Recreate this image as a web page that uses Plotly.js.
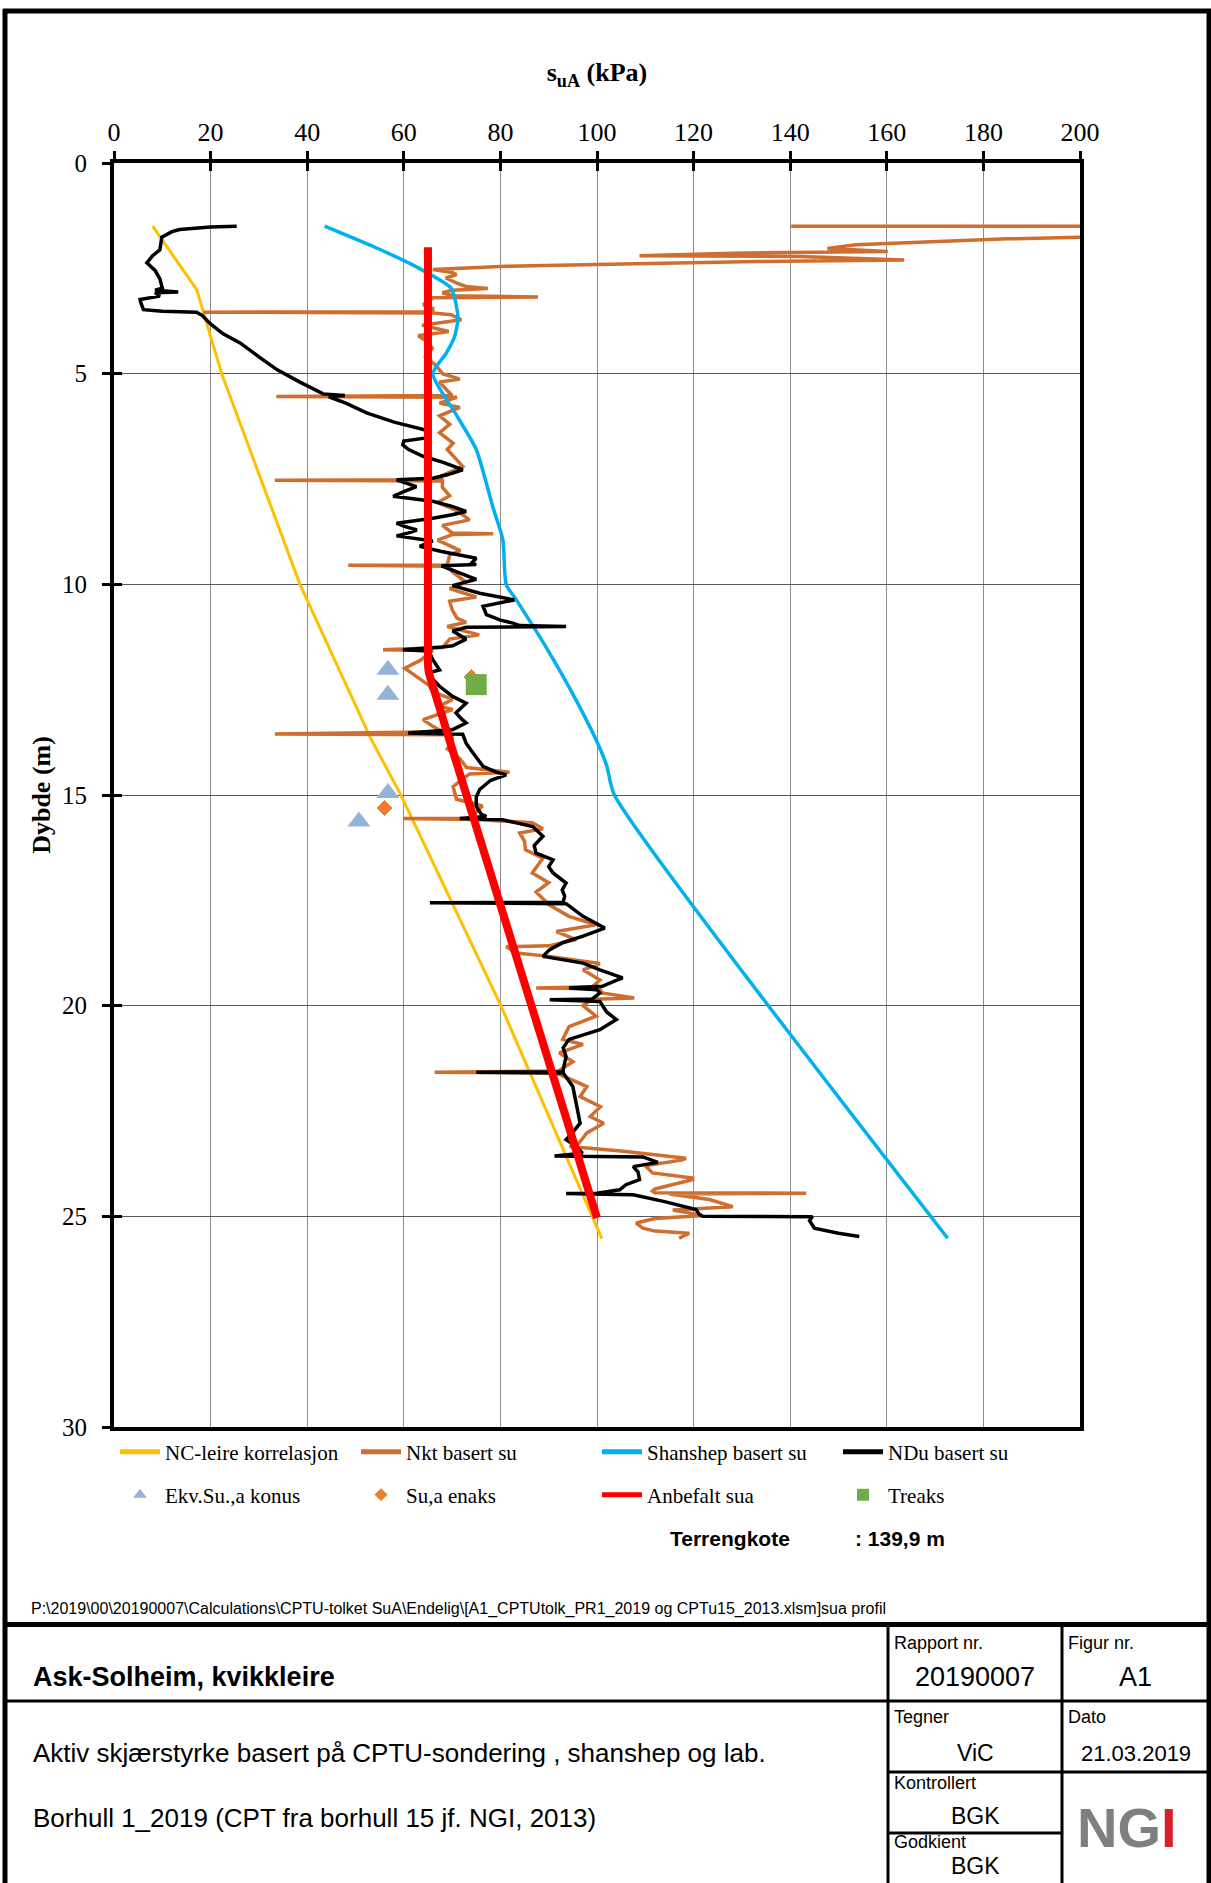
<!DOCTYPE html>
<html><head><meta charset="utf-8">
<script src="https://cdn.plot.ly/plotly-3.0.1.min.js"></script>
<style>html,body{margin:0;padding:0;background:#fff;}#chart{width:1211px;height:1883px;}</style>
</head><body><div id="chart"></div>
<script>
// ---- data (kPa vs depth m) ----
const depthNC = [1.5, 3.0, 5.0, 6.57, 10.0, 13.69, 15.0, 20.0, 25.53];
const suNC    = [8.0, 17.1, 22.3, 27.4, 38.5, 53.3, 59.4, 80.1, 101.0];

const depthNkt = [1.50,1.50,1.73,1.80,1.94,2.03,2.10,2.14,2.20,2.22,2.30,2.34,2.41,2.45,2.53,2.60,2.65,2.73,2.85,2.93,2.98,3.02,3.08,3.15,3.18,3.20,3.30,3.36,3.45,3.53,3.54,3.56,3.60,3.72,3.85,4.00,4.10,4.25,4.40,4.60,4.80,5.00,5.13,5.20,5.40,5.52,5.54,5.56,5.70,5.80,6.00,6.20,6.40,6.65,6.80,7.00,7.20,7.45,7.52,7.53,7.55,7.70,7.90,8.06,8.25,8.47,8.60,8.78,8.80,8.82,8.95,9.20,9.30,9.54,9.55,9.57,9.70,9.95,10.10,10.30,10.40,10.60,10.80,10.90,11.00,11.20,11.30,11.50,11.55,11.57,11.80,11.99,12.20,12.40,12.55,12.73,12.89,12.97,13.21,13.37,13.50,13.55,13.57,13.75,13.90,14.15,14.35,14.46,14.50,14.80,15.10,15.26,15.40,15.55,15.56,15.58,15.66,15.80,15.90,16.10,16.30,16.50,16.85,17.08,17.30,17.60,17.88,18.08,18.24,18.43,18.58,18.60,18.75,18.83,19.00,19.15,19.39,19.55,19.58,19.60,19.70,19.82,19.85,20.00,20.25,20.50,20.80,20.92,21.12,21.33,21.55,21.58,21.60,21.92,22.16,22.40,22.63,22.79,23.02,23.30,23.34,23.45,23.62,23.66,23.80,23.97,24.09,24.13,24.35,24.40,24.44,24.45,24.47,24.60,24.77,24.85,24.98,25.05,25.16,25.28,25.35,25.40,25.52];
const suNkt = [140.2,215,215,185,153.6,147.7,160.2,128,108.8,142,163.6,133,99.8,81.2,66,70,70.9,68.7,71,72.9,77.4,70,68,70,87.8,66,65,64,66,66,18.5,66,69.8,71.9,63.8,69.3,63,65,65.9,64.5,66.6,68,71.6,67.4,69,70,33.6,71,67.4,71.6,67.4,69.5,67.4,70.2,69,70.5,72.2,67.4,68,33.3,68,68,69.5,67,71,73.6,68,70,78.5,70,67,71.7,69.5,69,48.5,69,70,72.9,69.5,75,69.5,70,71,72.9,69,75.6,69.5,68,55.7,66,63.5,60.2,62.7,65.2,66,70.1,67.4,70.1,64,66,68,33.3,70,70,69,71.7,73,81.9,73.6,70.2,70.9,76.3,75,74,59.8,74.8,86.6,88.8,84,85,85.2,88.8,86.6,90,87.4,90,94.2,99.8,91.6,95.7,90,81.2,83.3,90.2,100.6,97.1,100.6,99,87.4,100.6,101,107.7,99,97.1,99.8,94.2,92.9,97.1,92.2,95,92,66.4,91.6,97.9,96.5,100.7,98.6,101.4,97.9,96,94.3,105,118.4,117.7,110,111.5,119.8,119.8,112,111.5,112,143.3,115,123.3,128.1,115.7,121.9,112,108.1,109.5,112,119.1,117];

const depthSH = [1.5, 2.0, 2.4, 2.97, 3.4, 3.72, 4.12, 4.51, 5.0, 6.0, 6.8, 8.15, 8.94, 10.0, 10.37, 11.5, 12.5, 13.69, 14.3, 15.0, 25.52];
const suSH    = [43.6, 54.0, 61.5, 69.8, 70.9, 71.2, 70.5, 68.8, 66.0, 71.0, 75.0, 78.4, 80.5, 81.2, 83.3, 89.5, 94.5, 99.8, 102.0, 103.6, 172.6];

const depthNDu = [1.50,1.52,1.58,1.63,1.76,2.06,2.20,2.37,2.55,2.75,2.97,3.02,3.06,3.08,3.16,3.24,3.30,3.48,3.52,3.54,3.62,3.80,4.05,4.27,4.60,4.91,5.20,5.48,5.52,5.55,5.70,5.93,6.15,6.33,6.45,6.53,6.60,6.69,6.80,6.96,7.10,7.28,7.40,7.48,7.52,7.58,7.68,7.80,7.91,8.03,8.15,8.27,8.35,8.43,8.55,8.62,8.71,8.78,8.85,8.97,9.10,9.22,9.30,9.38,9.50,9.53,9.56,9.72,9.88,10.03,10.21,10.37,10.45,10.52,10.72,10.85,10.92,10.98,11.00,11.02,11.11,11.30,11.46,11.49,11.55,11.58,11.79,12.03,12.10,12.25,12.42,12.55,12.66,12.82,13.05,13.20,13.29,13.45,13.53,13.56,13.77,13.95,14.10,14.32,14.45,14.52,14.65,14.87,15.05,15.27,15.45,15.51,15.56,15.59,15.75,15.98,16.20,16.38,16.54,16.70,16.85,17.09,17.25,17.40,17.55,17.56,17.58,17.88,18.16,18.35,18.50,18.67,18.83,18.99,19.15,19.34,19.45,19.54,19.58,19.62,19.70,19.84,19.86,19.90,20.15,20.33,20.57,20.80,21.00,21.21,21.52,21.57,21.58,21.60,21.92,22.20,22.50,22.79,23.00,23.18,23.34,23.50,23.57,23.59,23.72,23.82,23.95,24.13,24.25,24.37,24.45,24.46,24.48,24.49,24.65,24.84,24.96,25.00,25.01,25.10,25.28,25.40,25.48];
const suNDu = [25.4,20.0,13.6,12.0,9.9,9.5,8.0,6.8,8.5,9.5,10.0,8.5,13.3,8.5,9.5,5.4,5.5,6.1,10.0,17.1,18.3,19.8,22.5,26.1,30.0,33.8,38.5,43.3,47.8,44.5,48.0,52.3,58.0,64.3,65.0,64.3,60.0,59.8,61.0,64.0,68.0,72.2,69.0,66.0,58.5,60.0,62.6,60.0,57.8,66.0,70.0,72.9,70.0,66.0,58.5,60.0,62.7,61.0,58.5,66.0,63.3,67.8,71.0,75.0,74.0,75.0,67.8,71.2,75.0,70.1,75.7,82.9,79.0,76.4,77.1,80.0,82.6,84.0,93.6,72.9,70.1,72.9,70.1,68.0,59.8,65.2,66.0,67.4,65.2,66.0,67.4,69.0,70.1,72.9,70.8,72.0,72.9,70.1,60.9,72.2,72.9,74.0,75.0,76.4,79.0,81.2,78.0,75.7,75.0,75.0,76.0,77.1,71.6,80.5,86.7,88.8,87.0,87.4,90.9,90.0,90.9,93.6,92.8,93.3,93.0,65.4,93.6,97.1,101.6,97.1,93.0,90.2,88.8,97.1,100.6,105.3,103.0,101.1,94.2,100.0,100.6,99.0,90.2,100.6,102.0,104.0,100.6,94.2,93.0,93.6,93.0,93.0,75.0,93.0,95.0,95.5,96.0,96.5,95.0,93.6,95.7,97.0,91.2,109.5,112.6,107.5,108.5,108.8,106.0,104.7,100.0,93.6,104.0,107.5,114.0,120.5,121.2,121.9,144.6,144.0,145.0,150.0,154.3];

const depthKonus = [12.03, 12.62, 14.95, 15.63];
const suKonus    = [56.7, 56.7, 56.7, 50.7];
const depthEnaks = [12.2, 15.31];
const suEnaks    = [74.0, 56.0];
const depthRec = [2.0, 11.9, 12.1, 12.3, 25.04];
const suRec    = [65.0, 65.0, 65.2, 65.7, 100.0];
const depthTreaks = [12.38];
const suTreaks    = [75.0];

const xTicks = [0,20,40,60,80,100,120,140,160,180,200];
const yTicks = [0,5,10,15,20,25,30];

// ---- page geometry helpers (page px -> paper) ----
const L=114, T=163, W=966, H=1264;
const fx = X => (X-L)/W, fy = Y => (T+H-Y)/H;
const SERIF='Liberation Serif', SANS='Liberation Sans';

const traces = [
  {name:'NC-leire korrelasjon', x:suNC, y:depthNC, mode:'lines', line:{color:'#FFC000', width:3}, legend:'legend'},
  {name:'Nkt basert su', x:suNkt, y:depthNkt, mode:'lines', line:{color:'#D06E2F', width:3.5}, legend:'legend'},
  {name:'Shanshep basert su', x:suSH, y:depthSH, mode:'lines', line:{color:'#00B0F0', width:3.5, shape:'spline', smoothing:0.6}, legend:'legend'},
  {name:'NDu basert su', x:suNDu, y:depthNDu, mode:'lines', line:{color:'#000000', width:3.5}, legend:'legend'},
  {name:'Ekv.Su.,a konus', x:suKonus, y:depthKonus, mode:'markers', marker:{symbol:'triangle-up', size:20, color:'#95B3D7'}, legend:'legend2'},
  {name:'Su,a enaks', x:suEnaks, y:depthEnaks, mode:'markers', marker:{symbol:'diamond', size:13, color:'#ED7D31', line:{color:'#fff', width:1}}, legend:'legend2'},
  {name:'Anbefalt sua', x:suRec, y:depthRec, mode:'lines', line:{color:'#FF0000', width:8, shape:'spline', smoothing:0.3}, legend:'legend2'},
  {name:'Treaks', x:suTreaks, y:depthTreaks, mode:'markers', marker:{symbol:'square', size:21, color:'#70AD47'}, legend:'legend2'},
  {x:[null], y:[null], xaxis:'x2', yaxis:'y2', showlegend:false, hoverinfo:'skip', mode:'lines'}
];

function line(x0,y0,x1,y1,w){return {type:'line', xref:'paper', yref:'paper', x0:fx(x0), y0:fy(y0), x1:fx(x1), y1:fy(y1), line:{color:'#000', width:w}};}
const shapes = [
  line(5,9,5,1895,5),
  line(1209,9,1209,1895,5),
  line(3,11,1211,11,5),
  line(5,1624.5,1209,1624.5,5),
  line(5,1701,1209,1701,3),
  line(888,1624,888,1895,3),
  line(1062,1624,1062,1895,3),
  line(888,1772,1209,1772,3),
  line(888,1833,1062,1833,3)
];
function ann(text,X,Y,size,o){o=o||{};return Object.assign({xref:'paper', yref:'paper', x:fx(X), y:fy(Y), xanchor:'left', yanchor:'middle', showarrow:false, text:text, font:{family:SANS, size:size, color:'#000'}}, o);}
const annotations = [
  ann('<b>Terrengkote</b>',668,1538,21),
  ann('<b>: 139,9 m</b>',853,1538,21),
  ann('P:\\2019\\00\\20190007\\Calculations\\CPTU-tolket SuA\\Endelig\\[A1_CPTUtolk_PR1_2019 og CPTu15_2013.xlsm]sua profil',29,1609,16),
  ann('<b>Ask-Solheim, kvikkleire</b>',31,1677,27),
  ann('Aktiv skjærstyrke basert på CPTU-sondering , shanshep og lab.',31,1753,26),
  ann('Borhull 1_2019 (CPT fra borhull 15 jf. NGI, 2013)',31,1818,26),
  ann('Rapport nr.',892,1643,18),
  ann('Figur nr.',1066,1643,18),
  ann('20190007',975,1677,27,{xanchor:'center'}),
  ann('A1',1135,1677,27,{xanchor:'center'}),
  ann('Tegner',892,1717,18),
  ann('Dato',1066,1717,18),
  ann('ViC',975,1753,23,{xanchor:'center'}),
  ann('21.03.2019',1136,1753,22,{xanchor:'center'}),
  ann('Kontrollert',892,1783,18),
  ann('BGK',975,1816,23,{xanchor:'center'}),
  ann('Godkient',892,1842,18),
  ann('BGK',975,1866,23,{xanchor:'center'}),
  ann('<b>NG<span style="color:#D2232A">I</span></b>',1127,1827,56,{xanchor:'center', font:{family:SANS, size:56, color:'#7F7F7F'}})
];

const axFont = {family:SERIF, size:26, color:'#000'};
const legFont = {family:SERIF, size:21, color:'#000'};
const layout = {
  width:1211, height:1883,
  margin:{l:L, r:1211-L-W, t:T, b:1883-T-H, pad:0},
  paper_bgcolor:'#fff', plot_bgcolor:'#fff',
  showlegend:true,
  xaxis:{range:[0,200], side:'top', tickvals:xTicks, ticks:'outside', ticklen:8, tickwidth:3, tickcolor:'#000',
    showline:true, linewidth:4, linecolor:'#000', mirror:true, showgrid:true, gridcolor:'#8C8C8C', gridwidth:1, zeroline:false,
    tickfont:axFont, title:{text:'<b>s<sub>uA</sub> (kPa)</b>', font:axFont, standoff:29}, fixedrange:true},
  yaxis:{range:[30,0], tickvals:yTicks, ticks:'outside', ticklen:8, tickwidth:3, tickcolor:'#000',
    showline:true, linewidth:4, linecolor:'#000', mirror:true, showgrid:true, gridcolor:'#595959', gridwidth:1, zeroline:false,
    tickfont:{family:SERIF, size:25, color:'#000'}, ticklabelstandoff:10, title:{text:'<b>Dybde (m)</b>', font:axFont, standoff:5}, fixedrange:true},
  xaxis2:{overlaying:'x', anchor:'y2', side:'top', range:[0,200], tickvals:xTicks, ticks:'inside', ticklen:8, tickwidth:3, tickcolor:'#000',
    showticklabels:false, showgrid:false, showline:false, zeroline:false},
  yaxis2:{overlaying:'y', anchor:'x2', side:'left', range:[30,0], tickvals:yTicks, ticks:'inside', ticklen:8, tickwidth:3, tickcolor:'#000',
    showticklabels:false, showgrid:false, showline:false, zeroline:false},
  legend:{orientation:'h', x:fx(115), y:fy(1452), xanchor:'left', yanchor:'middle', entrywidth:186, entrywidthmode:'pixels',
    itemwidth:40, font:legFont, bgcolor:'rgba(0,0,0,0)', traceorder:'normal', itemsizing:'constant'},
  legend2:{orientation:'h', x:fx(115), y:fy(1495), xanchor:'left', yanchor:'middle', entrywidth:186, entrywidthmode:'pixels',
    itemwidth:40, font:legFont, bgcolor:'rgba(0,0,0,0)', traceorder:'normal', itemsizing:'constant'},
  shapes:shapes, annotations:annotations
};
Plotly.newPlot('chart', traces, layout, {staticPlot:true, displayModeBar:false});
</script></body></html>
